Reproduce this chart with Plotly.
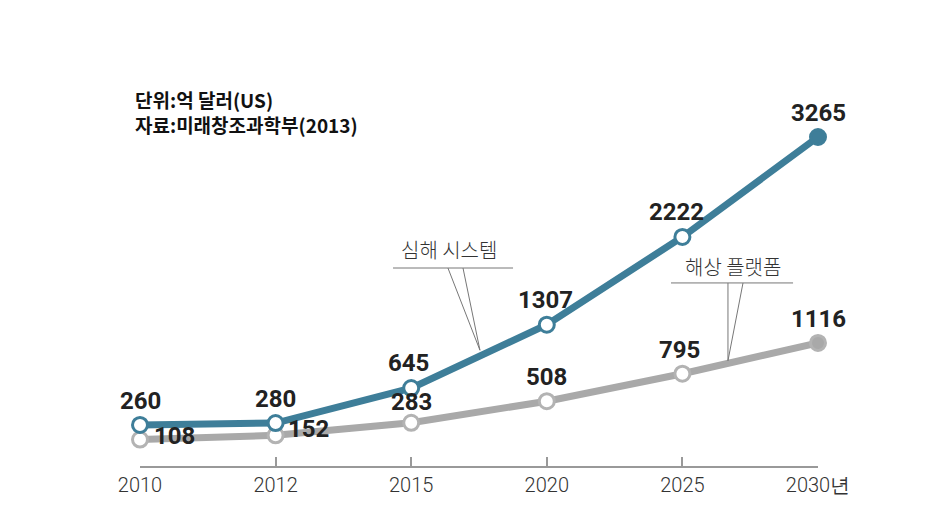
import plotly.graph_objects as go

years = ["2010", "2012", "2015", "2020", "2025", "2030"]
tick_text = ["2010", "2012", "2015", "2020", "2025", "2030년"]
deep_sea = [260, 280, 645, 1307, 2222, 3265]        # 심해 시스템
offshore = [108, 152, 283, 508, 795, 1116]          # 해상 플랫폼
header_lines = ["단위:억 달러(US)", "자료:미래창조과학부(2013)"]
series_names = ["심해 시스템", "해상 플랫폼"]

BLUE = "#3e7e99"
GRAY = "#a9a9a9"
TXT = "#222222"

x_idx = list(range(len(years)))

fig = go.Figure()

def add_series(vals, color, border):
    fill = ["white"] * (len(vals) - 1) + [color]
    fig.add_trace(go.Scatter(
        x=x_idx, y=vals, mode="lines+markers",
        line=dict(color=color, width=7),
        marker=dict(size=15, color=fill, line=dict(color=border, width=3)),
        cliponaxis=False, hoverinfo="skip", showlegend=False,
    ))

add_series(offshore, GRAY, "#b3b3b3")
add_series(deep_sea, BLUE, BLUE)

label_font = dict(family="Roboto", size=24, color=TXT, weight="bold")

# value labels (offsets in px)
blue_shift = [(0, 24), (0, 24), (-3, 25), (-1, 25), (-6, 25), (0, 24)]
gray_shift = [(34, 4), (33, 6), (0, 21), (0, 24), (-3, 24), (0, 24)]
for i, v in enumerate(deep_sea):
    fig.add_annotation(x=x_idx[i], y=v, text=str(v), showarrow=False,
                       xshift=blue_shift[i][0], yshift=blue_shift[i][1], font=label_font)
for i, v in enumerate(offshore):
    fig.add_annotation(x=x_idx[i], y=v, text=str(v), showarrow=False,
                       xshift=gray_shift[i][0], yshift=gray_shift[i][1], font=label_font)

# header text (two lines in one block)
head_font = dict(family="Noto Sans CJK KR", size=19, color="#111", weight="bold")
fig.add_annotation(xref="paper", yref="paper", x=-0.0103, y=0.966, xanchor="left", yanchor="middle",
                   align="left", text="<br>".join(header_lines), showarrow=False, font=head_font)

# callouts
call_font = dict(family="Noto Sans CJK KR", size=20, color="#333", weight=300)
line_style = dict(color="#777", width=1)

# 심해 시스템
fig.add_annotation(x=2.279, y=2086, text=series_names[0], showarrow=False, font=call_font)
fig.add_shape(type="line", x0=1.866, x1=2.751, y0=1898, y1=1898, line=line_style)
fig.add_shape(type="line", x0=2.271, y0=1898, x1=2.507, y1=1040, line=line_style)
fig.add_shape(type="line", x0=2.382, y0=1898, x1=2.507, y1=1040, line=line_style)

# 해상 플랫폼
fig.add_annotation(x=4.373, y=1909, text=series_names[1], showarrow=False, font=call_font)
fig.add_shape(type="line", x0=3.916, x1=4.816, y0=1742, y1=1742, line=line_style)
fig.add_shape(type="line", x0=4.336, y0=1742, x1=4.336, y1=930, line=line_style)
fig.add_shape(type="line", x0=4.447, y0=1742, x1=4.336, y1=930, line=line_style)

fig.update_layout(
    width=930, height=512,
    margin=dict(l=132, r=120, t=92, b=54),
    paper_bgcolor="white", plot_bgcolor="white",
    xaxis=dict(
        range=[0, 5], tickmode="array", tickvals=x_idx, ticktext=tick_text,
        showgrid=False, zeroline=False,
        showline=True, linecolor="#999", linewidth=1.5,
        ticks="inside", ticklen=9, tickcolor="#999", tickwidth=1.5,
        tickfont=dict(family="Roboto", size=20, color="#333", weight=300),
        fixedrange=True,
    ),
    yaxis=dict(range=[-168, 3651], visible=False, showgrid=False, zeroline=False, fixedrange=True),
)

fig.write_html("out.html")
